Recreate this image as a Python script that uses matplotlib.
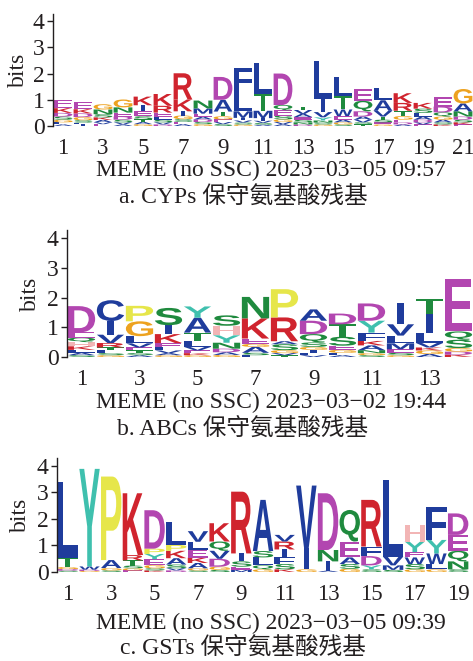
import matplotlib
matplotlib.use("Agg")
import matplotlib.pyplot as plt
from matplotlib.textpath import TextPath
from matplotlib.patches import PathPatch
from matplotlib.font_manager import FontProperties
from matplotlib.transforms import Affine2D

# Columnas de cada logo: letras de abajo hacia arriba y su altura en bits
cyp_letras = ["ALGSDKE", "ILSGDKE", "EVAKSNG", "AVSDENG", "GATSEIK", "DVSLERK", "AESGIKR",
              "GSDAEMN", "SVEGTAD", "GSVIMLF", "ASVIMTL", "AVGSEQD", "DNSEAVT", "GSNYVIL",
              "SGAEWTL", "TSVADQE", "GESTVAL", "ADEGTRK", "EVDALSK", "KSAGQDE", "EKSDNAG"]
cyp_alturas = [[0.06, 0.08, 0.10, 0.12, 0.14, 0.18, 0.33],
               [0.06, 0.07, 0.09, 0.12, 0.14, 0.16, 0.28],
               [0.07, 0.07, 0.09, 0.10, 0.12, 0.18, 0.20],
               [0.06, 0.08, 0.10, 0.12, 0.15, 0.20, 0.30],
               [0.07, 0.08, 0.10, 0.12, 0.20, 0.22, 0.33],
               [0.06, 0.08, 0.10, 0.12, 0.15, 0.26, 0.45],
               [0.07, 0.09, 0.10, 0.14, 0.16, 0.45, 1.00],
               [0.07, 0.08, 0.10, 0.10, 0.12, 0.20, 0.30],
               [0.07, 0.08, 0.10, 0.12, 0.18, 0.45, 0.87],
               [0.06, 0.07, 0.08, 0.10, 0.25, 0.75, 0.90],
               [0.05, 0.07, 0.08, 0.10, 0.28, 0.65, 1.19],
               [0.07, 0.08, 0.10, 0.15, 0.20, 0.20, 1.20],
               [0.06, 0.08, 0.10, 0.10, 0.12, 0.15, 0.12],
               [0.06, 0.07, 0.08, 0.12, 0.20, 0.50, 1.45],
               [0.06, 0.08, 0.10, 0.14, 0.25, 0.50, 0.75],
               [0.06, 0.08, 0.10, 0.12, 0.20, 0.40, 0.45],
               [0.06, 0.08, 0.10, 0.12, 0.22, 0.40, 0.45],
               [0.06, 0.08, 0.10, 0.14, 0.20, 0.30, 0.37],
               [0.06, 0.08, 0.10, 0.12, 0.14, 0.16, 0.22],
               [0.06, 0.08, 0.10, 0.12, 0.16, 0.22, 0.35],
               [0.06, 0.08, 0.10, 0.12, 0.20, 0.30, 0.55]]

abc_letras = ["SALKHQED", "GSLTRVIC", "ASTEVLGP", "GAVLEKIS", "GKEVLTAY", "GADNYHS", "LSAGEKN",
              "TVGSARP", "VLIGSQDA", "ALGESTD", "SGNAKFYD", "GSEMLVI", "AGKVLIT", "KDGSQE"]
abc_alturas = [[0.06, 0.08, 0.10, 0.12, 0.14, 0.15, 0.18, 0.88],
               [0.06, 0.07, 0.09, 0.10, 0.15, 0.28, 0.46, 0.70],
               [0.06, 0.07, 0.09, 0.10, 0.14, 0.24, 0.50, 0.52],
               [0.06, 0.07, 0.09, 0.10, 0.15, 0.30, 0.30, 0.58],
               [0.06, 0.07, 0.09, 0.12, 0.20, 0.28, 0.50, 0.38],
               [0.07, 0.09, 0.12, 0.20, 0.25, 0.32, 0.35],
               [0.06, 0.08, 0.20, 0.10, 0.18, 0.68, 0.72],
               [0.06, 0.07, 0.10, 0.20, 0.10, 0.80, 0.95],
               [0.06, 0.08, 0.10, 0.10, 0.15, 0.28, 0.45, 0.38],
               [0.06, 0.08, 0.10, 0.14, 0.30, 0.42, 0.36],
               [0.06, 0.07, 0.10, 0.16, 0.15, 0.28, 0.40, 0.58],
               [0.06, 0.08, 0.12, 0.20, 0.26, 0.38, 0.70],
               [0.10, 0.12, 0.10, 0.15, 0.33, 0.65, 0.50],
               [0.08, 0.10, 0.12, 0.28, 0.28, 1.77]]

gst_letras = ["SDGTL", "GDWY", "SGAP", "EGSTRK", "KSGEYPD", "DVSAKPL", "SGAKELV", "SGDVQK",
              "MESIR", "GQLSA", "KSFIRV", "GIV", "AIND", "GSAEQ", "SYDFR", "SMVL", "GSWEYH",
              "GLWYF", "SNQED"]
gst_alturas = [[0.05, 0.06, 0.08, 0.35, 2.84],
               [0.04, 0.05, 0.12, 3.68],
               [0.06, 0.09, 0.30, 3.15],
               [0.06, 0.08, 0.10, 0.20, 0.20, 2.33],
               [0.06, 0.08, 0.12, 0.22, 0.20, 0.20, 1.45],
               [0.06, 0.08, 0.14, 0.24, 0.28, 0.22, 0.85],
               [0.06, 0.08, 0.20, 0.20, 0.30, 0.30, 0.40],
               [0.08, 0.12, 0.30, 0.30, 0.35, 0.69],
               [0.08, 0.12, 0.20, 0.30, 2.33],
               [0.10, 0.15, 0.30, 0.24, 1.93],
               [0.10, 0.20, 0.25, 0.30, 0.30, 0.25],
               [0.10, 0.79, 2.37],
               [0.05, 0.35, 0.43, 2.14],
               [0.12, 0.18, 0.25, 0.60, 1.19],
               [0.10, 0.15, 0.35, 0.36, 1.76],
               [0.08, 0.17, 0.33, 2.89],
               [0.10, 0.20, 0.25, 0.20, 0.40, 0.62],
               [0.10, 0.20, 0.40, 0.51, 1.26],
               [0.10, 0.30, 0.40, 0.60, 0.81]]

fechas = ["MEME (no SSC) 2023\u221203\u221205 09:57",
          "MEME (no SSC) 2023\u221203\u221202 19:44",
          "MEME (no SSC) 2023\u221203\u221205 09:39"]
titulos = ["a. CYPs 保守氨基酸残基", "b. ABCs 保守氨基酸残基", "c. GSTs 保守氨基酸残基"]

# colores tipo MEME para aminoácidos
colores = {}
for a in "ACFILVWM":
    colores[a] = '#1f3c9c'
for a in "NQST":
    colores[a] = '#1f8a3e'
for a in "DE":
    colores[a] = '#b246b0'
for a in "KR":
    colores[a] = '#d0242e'
colores['H'] = '#f2b5b5'
colores['G'] = '#eda21f'
colores['P'] = '#e6e64a'
colores['Y'] = '#3fc0ae'

fuente_letra = FontProperties(family='Liberation Sans', weight='bold')
serif = ['Liberation Serif', 'Noto Sans CJK SC']
negro = '#231f20'

W, H = 473, 661
fig = plt.figure(figsize=(W / 100, H / 100), dpi=100)


def dibuja_letra(ax, letra, x, y0, alto, ancho=0.94):
    if letra == 'I':
        ancho = 0.22   # la I no se estira a todo el ancho
    tp = TextPath((0, 0), letra, size=1, prop=fuente_letra)
    ext = tp.get_extents()
    tr = Affine2D().translate(-ext.x0, -ext.y0).scale(ancho / ext.width, alto / ext.height) \
        .translate(x - ancho / 2, y0)
    ax.add_patch(PathPatch(tr.transform_path(tp), facecolor=colores[letra], edgecolor='none', lw=0))


# letras, alturas, eje_x_px, derecha_px, cero_px, arriba_px, ymax, bits_x, y de los textos
paneles = [
    (cyp_letras, cyp_alturas, 53, 473, 126, 14, 4.27, 18, 170, 198),
    (abc_letras, abc_alturas, 67, 473, 357, 230, 4.27, 30, 402, 430),
    (gst_letras, gst_alturas, 57, 469, 572, 458, 4.30, 20, 623, 649),
]

for k, (letras, alturas, x0, x1, yb, yt, ymax, bx, yt2, yt3) in enumerate(paneles):
    ax = fig.add_axes([x0 / W, 1 - yb / H, (x1 - x0) / W, (yb - yt) / H])
    n = len(letras)
    for i in range(n):
        base = 0.0
        for letra, h in zip(letras[i], alturas[i]):
            dibuja_letra(ax, letra, i + 1, base, h)
            base += h
    ax.set_xlim(0.5, n + 0.5)
    ax.set_ylim(0, ymax)
    for s in ['top', 'right', 'bottom']:
        ax.spines[s].set_visible(False)
    ax.spines['left'].set_linewidth(1.0)
    ax.spines['left'].set_color(negro)
    ax.set_xticks(range(1, n + 1, 2))
    ax.set_yticks([0, 1, 2, 3, 4])
    ax.tick_params(axis='x', length=0, pad=9, labelsize=16.5, labelcolor=negro)
    ax.tick_params(axis='y', length=4, width=1, pad=2, labelsize=17, color=negro, labelcolor=negro)
    for t in ax.get_xticklabels() + ax.get_yticklabels():
        t.set_fontfamily('Liberation Serif')
    fig.text(bx / W, 1 - (yb + yt) / 2 / H, 'bits', rotation=90, ha='center', va='center',
             fontsize=17, family=serif, color=negro)
    fig.text(271 / W, 1 - yt2 / H, fechas[k], ha='center', va='center', fontsize=17,
             family=serif, color=negro)
    fig.text(243 / W, 1 - yt3 / H, titulos[k], ha='center', va='center', fontsize=17,
             family=serif, color=negro)

fig.savefig('out.png', dpi=100)
